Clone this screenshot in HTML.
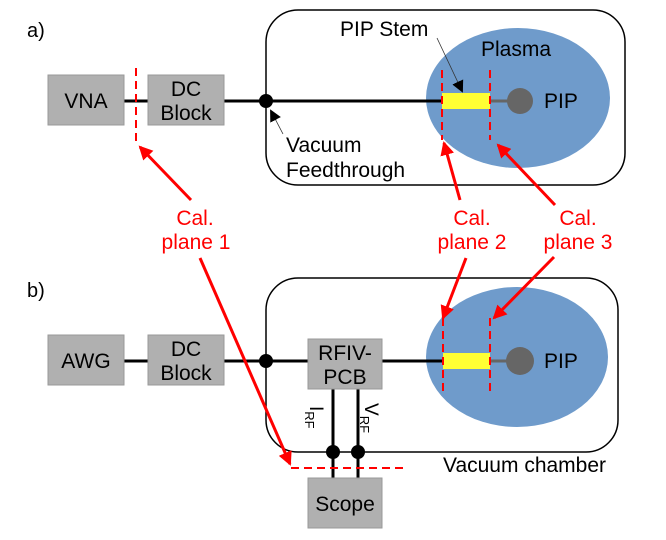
<!DOCTYPE html>
<html><head><meta charset="utf-8"><style>
html,body{margin:0;padding:0;background:#fff;}
svg{display:block;}
text{font-family:"Liberation Sans",sans-serif;}
</style></head><body>
<svg width="666" height="540" viewBox="0 0 666 540" xmlns="http://www.w3.org/2000/svg">
<defs>
<marker id="ar" markerWidth="14" markerHeight="14" refX="12" refY="7" orient="auto" markerUnits="userSpaceOnUse"><path d="M0,0 L14,7 L0,14 z" fill="#f00"/></marker>
<marker id="ab" markerWidth="12" markerHeight="12" refX="10" refY="6" orient="auto" markerUnits="userSpaceOnUse"><path d="M0,0 L12,6 L0,12 z" fill="#000"/></marker>
</defs>
<g font-size="20" fill="#000">
<text x="27" y="37">a)</text>
<text x="27" y="297">b)</text>
</g>
<!-- a -->
<rect x="266" y="10" width="359" height="175" rx="32" fill="none" stroke="#000" stroke-width="1.5"/>
<ellipse cx="518" cy="98" rx="92" ry="70" fill="#6f9bcb"/>
<line x1="124" y1="101" x2="148" y2="101" stroke="#000" stroke-width="3"/>
<line x1="224" y1="101" x2="442" y2="101" stroke="#000" stroke-width="3"/>
<circle cx="266" cy="101" r="7" fill="#000"/>
<rect x="48" y="75" width="76" height="50" fill="#b0b0b0" stroke="#999"/>
<rect x="148" y="75" width="76" height="50" fill="#b0b0b0" stroke="#999"/>
<g font-size="21" text-anchor="middle">
<text x="86" y="108">VNA</text>
<text x="186" y="96">DC</text><text x="186" y="120">Block</text>
</g>
<rect x="442" y="93" width="48" height="16" fill="#ffff33"/>
<line x1="490" y1="101" x2="510" y2="101" stroke="#666" stroke-width="3"/>
<circle cx="520" cy="101" r="13" fill="#666"/>
<line x1="442" y1="70" x2="442" y2="140" stroke="#f00" stroke-width="2" stroke-dasharray="8,5"/>
<line x1="490" y1="70" x2="490" y2="140" stroke="#f00" stroke-width="2" stroke-dasharray="8,5"/>
<line x1="136" y1="68" x2="136" y2="145" stroke="#f00" stroke-width="2" stroke-dasharray="8,5"/>
<g font-size="21">
<text x="544" y="108">PIP</text>
<text x="481" y="56">Plasma</text>
<text x="340" y="36">PIP Stem</text>
<text x="286" y="152">Vacuum</text>
<text x="286" y="177">Feedthrough</text>
</g>
<line x1="437" y1="38" x2="462" y2="91" stroke="#333" stroke-width="0.8" marker-end="url(#ab)"/>
<line x1="283" y1="134" x2="271" y2="111" stroke="#333" stroke-width="0.8" marker-end="url(#ab)"/>
<!-- b -->
<rect x="266" y="278" width="352" height="174" rx="32" fill="none" stroke="#000" stroke-width="1.5"/>
<ellipse cx="517" cy="357" rx="91" ry="70" fill="#6f9bcb"/>
<line x1="124" y1="361" x2="148" y2="361" stroke="#000" stroke-width="3"/>
<line x1="224" y1="361" x2="443" y2="361" stroke="#000" stroke-width="3"/>
<circle cx="266" cy="361" r="7" fill="#000"/>
<rect x="48" y="335" width="76" height="50" fill="#b0b0b0" stroke="#999"/>
<rect x="148" y="335" width="76" height="50" fill="#b0b0b0" stroke="#999"/>
<line x1="333" y1="389" x2="333" y2="478" stroke="#000" stroke-width="3"/>
<line x1="358" y1="389" x2="358" y2="478" stroke="#000" stroke-width="3"/>
<circle cx="333" cy="452" r="7" fill="#000"/>
<circle cx="358" cy="452" r="7" fill="#000"/>
<rect x="308" y="339" width="74" height="50" fill="#b0b0b0" stroke="#999"/>
<rect x="308" y="478" width="74" height="50" fill="#b0b0b0" stroke="#999"/>
<g font-size="21" text-anchor="middle">
<text x="86" y="368">AWG</text>
<text x="186" y="356">DC</text><text x="186" y="380">Block</text>
<text x="345" y="360">RFIV-</text><text x="345" y="384">PCB</text>
<text x="345" y="511">Scope</text>
</g>
<rect x="443" y="353" width="47" height="16" fill="#ffff33"/>
<line x1="490" y1="361" x2="510" y2="361" stroke="#666" stroke-width="3"/>
<circle cx="520" cy="361" r="14" fill="#666"/>
<line x1="443" y1="318" x2="443" y2="392" stroke="#f00" stroke-width="2" stroke-dasharray="8,5"/>
<line x1="490" y1="318" x2="490" y2="392" stroke="#f00" stroke-width="2" stroke-dasharray="8,5"/>
<line x1="291" y1="468" x2="403" y2="468" stroke="#f00" stroke-width="2" stroke-dasharray="8,5"/>
<text x="443" y="472" font-size="21">Vacuum chamber</text>
<text x="544" y="368" font-size="21">PIP</text>
<g font-size="19">
<text transform="translate(310,406) rotate(90)">I<tspan font-size="13" dy="5">RF</tspan></text>
<text transform="translate(365,403) rotate(90)">V<tspan font-size="13" dy="5">RF</tspan></text>
</g>
<!-- cal labels -->
<g font-size="21" fill="#f00" text-anchor="middle">
<text x="195" y="225">Cal.</text><text x="196" y="249">plane 1</text>
<text x="472" y="225">Cal.</text><text x="472" y="249">plane 2</text>
<text x="578" y="225">Cal.</text><text x="578" y="249">plane 3</text>
</g>
<g stroke="#f00" stroke-width="3" fill="none">
<line x1="191" y1="200" x2="140" y2="147" marker-end="url(#ar)"/>
<line x1="460" y1="200" x2="444" y2="143" marker-end="url(#ar)"/>
<line x1="555" y1="205" x2="498" y2="145" marker-end="url(#ar)"/>
<line x1="200" y1="258" x2="290" y2="464" marker-end="url(#ar)"/>
<line x1="466" y1="258" x2="443" y2="318" marker-end="url(#ar)"/>
<line x1="554" y1="257" x2="494" y2="318" marker-end="url(#ar)"/>
</g>
</svg>
</body></html>
